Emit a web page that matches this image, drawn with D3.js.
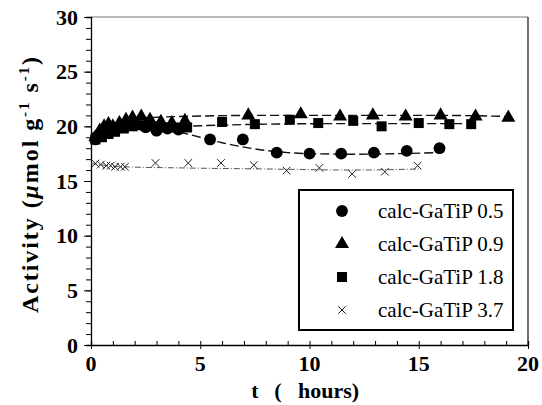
<!DOCTYPE html>
<html>
<head>
<meta charset="utf-8">
<script src="https://cdn.jsdelivr.net/npm/d3@7"></script>
<style>
  body { margin: 0; background: #fff; }
  svg text { font-family: "Liberation Serif", "DejaVu Serif", serif; fill: #000; }
</style>
</head>
<body>
<div id="chart"></div>
<script>
// measured points, t (hours) and activity
const circT = [0.2, 0.5, 0.8, 1.2, 1.6, 2.0, 2.5, 3.0, 3.5, 4.0, 5.45, 6.95, 8.5, 10.0, 11.45, 12.95, 14.45, 15.95];
const circY = [18.8, 19.2, 19.5, 19.8, 20.0, 20.2, 19.9, 19.6, 19.8, 19.7, 18.8, 18.8, 17.6, 17.5, 17.5, 17.6, 17.75, 18.0];
const triT = [0.2, 0.4, 0.6, 0.8, 1.0, 1.3, 1.6, 1.9, 2.3, 2.7, 3.2, 3.7, 4.3, 7.2, 9.6, 11.4, 12.9, 14.4, 16.0, 17.6, 19.1];
const triY = [19.0, 19.6, 20.0, 20.2, 20.0, 20.3, 20.6, 20.8, 20.9, 20.6, 20.4, 20.3, 20.5, 21.0, 21.1, 20.9, 21.0, 20.9, 21.0, 20.9, 20.8];
const sqT = [0.2, 0.5, 0.8, 1.1, 1.5, 1.9, 2.3, 2.8, 3.3, 3.8, 4.4, 6.0, 7.5, 9.1, 10.4, 12.0, 13.3, 15.0, 16.4, 17.4];
const sqY = [18.8, 19.0, 19.3, 19.5, 19.8, 20.0, 20.1, 20.0, 19.9, 19.9, 19.9, 20.4, 20.2, 20.6, 20.3, 20.5, 20.0, 20.3, 20.2, 20.2];
const crossT = [0.2, 0.45, 0.7, 0.9, 1.1, 1.35, 1.55, 2.95, 4.45, 5.95, 7.45, 8.95, 10.45, 11.95, 13.45, 14.95];
const crossY = [16.6, 16.5, 16.4, 16.4, 16.3, 16.3, 16.3, 16.65, 16.65, 16.65, 16.45, 15.95, 16.2, 15.65, 15.85, 16.4];

// fitted curves
const circFitT = [0, 1, 2, 3, 4, 5, 6, 7, 8, 9, 10, 12, 14, 16];
const circFitY = [18.8, 19.6, 20.0, 19.9, 19.5, 19.0, 18.5, 18.1, 17.8, 17.6, 17.5, 17.45, 17.5, 17.6];
const triFitT = [0, 1, 2, 4, 8, 12, 16, 19.1];
const triFitY = [19.3, 20.2, 20.7, 20.9, 21.0, 21.0, 21.0, 20.9];
const sqFitT = [0, 1, 2, 4, 8, 12, 17.4];
const sqFitY = [18.8, 19.5, 19.9, 20.0, 20.2, 20.25, 20.25];
const crossFitT = [0, 1.5, 4, 8, 12, 15];
const crossFitY = [16.6, 16.3, 16.2, 16.1, 16.0, 16.1];

const legendLabels = ["calc-GaTiP 0.5", "calc-GaTiP 0.9", "calc-GaTiP 1.8", "calc-GaTiP 3.7"];
const xTicks = [0, 5, 10, 15, 20];
const yTicks = [0, 5, 10, 15, 20, 25, 30];

const width = 542, height = 405;
const margin = { left: 91, right: 14, top: 17, bottom: 60 };

const svg = d3.select("#chart").append("svg")
  .attr("width", width)
  .attr("height", height);

const x = d3.scaleLinear().domain([0, 20]).range([margin.left, width - margin.right]);
const y = d3.scaleLinear().domain([0, 30]).range([height - margin.bottom, margin.top]);

// frame top / right
svg.append("line")
  .attr("x1", x(0)).attr("x2", x(20)).attr("y1", y(30)).attr("y2", y(30))
  .attr("stroke", "#777").attr("stroke-width", 1);
svg.append("line")
  .attr("x1", x(20)).attr("x2", x(20)).attr("y1", y(30)).attr("y2", y(0))
  .attr("stroke", "#222").attr("stroke-width", 1.3);

// x axis, minor ticks up, major ticks crossing
const xAxis = svg.append("g").attr("transform", `translate(0,${y(0)})`);
xAxis.call(d3.axisBottom(x).ticks(20).tickSize(-4).tickFormat(""));
xAxis.append("g").call(d3.axisBottom(x).tickValues(xTicks).tickSize(4).tickFormat(""))
  .selectAll(".domain").remove();
xAxis.selectAll("line").attr("stroke", "#000").attr("stroke-width", 1);
xAxis.selectAll(".domain").attr("stroke", "#000").attr("stroke-width", 1.3);
xAxis.selectAll(".xlab")
  .data(xTicks).join("text")
  .attr("class", "xlab")
  .attr("x", d => x(d)).attr("y", 26)
  .attr("fill", "#000")
  .attr("text-anchor", "middle")
  .attr("font-size", 22).attr("font-weight", "bold")
  .text(d => d);

// y axis, ticks pointing left
const yAxis = svg.append("g").attr("transform", `translate(${x(0)},0)`);
yAxis.call(d3.axisLeft(y).ticks(30).tickSize(5).tickFormat(""));
yAxis.append("g").call(d3.axisLeft(y).tickValues(yTicks).tickSize(7).tickFormat(""))
  .selectAll(".domain").remove();
yAxis.selectAll("line").attr("stroke", "#000").attr("stroke-width", 1);
yAxis.selectAll(".domain").attr("stroke", "#000").attr("stroke-width", 1.3);
yAxis.selectAll(".ylab")
  .data(yTicks).join("text")
  .attr("class", "ylab")
  .attr("x", -13).attr("y", d => y(d)).attr("dy", "0.35em")
  .attr("fill", "#000")
  .attr("text-anchor", "end")
  .attr("font-size", 22).attr("font-weight", "bold")
  .text(d => d);

// axis titles
const xt = svg.append("g").attr("font-size", 22).attr("font-weight", "bold");
xt.append("text").attr("x", 255).attr("y", 398).attr("text-anchor", "middle").text("t");
xt.append("text").attr("x", 278).attr("y", 398).attr("text-anchor", "middle").text("(");
xt.append("text").attr("x", 298).attr("y", 398).text("hours)");

const yt = svg.append("text")
  .attr("transform", `translate(38,185) rotate(-90)`)
  .attr("text-anchor", "middle")
  .attr("font-size", 24).attr("font-weight", "bold")
  .attr("textLength", 256).attr("lengthAdjust", "spacing");
yt.append("tspan").text("Activity (");
yt.append("tspan").attr("font-style", "italic").text("\u03bc");
yt.append("tspan").text("mol g");
yt.append("tspan").attr("font-size", 15).attr("dy", -9).text("-1");
yt.append("tspan").attr("dy", 9).text(" s");
yt.append("tspan").attr("font-size", 15).attr("dy", -9).text("-1");
yt.append("tspan").attr("dy", 9).text(")");

// fit lines
const line = d3.line().x(d => x(d[0])).y(d => y(d[1])).curve(d3.curveMonotoneX);
const fits = [
  { t: circFitT, v: circFitY, dash: "9,4", color: "#111", w: 1.4 },
  { t: triFitT, v: triFitY, dash: "9,4", color: "#111", w: 1.4 },
  { t: sqFitT, v: sqFitY, dash: "9,4", color: "#111", w: 1.4 },
  { t: crossFitT, v: crossFitY, dash: "6,2,1,2", color: "#555", w: 1 }
];
fits.forEach(f => {
  svg.append("path")
    .attr("d", line(d3.zip(f.t, f.v)))
    .attr("fill", "none")
    .attr("stroke", f.color)
    .attr("stroke-width", f.w)
    .attr("stroke-dasharray", f.dash);
});

// symbols
const symCircle = d3.symbol().type(d3.symbolCircle).size(110);
const symTri = d3.symbol().type(d3.symbolTriangle).size(85);
const symSq = d3.symbol().type(d3.symbolSquare).size(100);
const symCross = d3.symbol().type(d3.symbolTimes).size(40);

function drawPoints(ts, vs, gen, isCross) {
  svg.append("g").selectAll("path")
    .data(d3.zip(ts, vs)).join("path")
    .attr("transform", d => `translate(${x(d[0])},${y(d[1])})`)
    .attr("d", gen())
    .attr("fill", isCross ? "none" : "#000")
    .attr("stroke", isCross ? "#222" : "none")
    .attr("stroke-width", 1);
}
drawPoints(crossT, crossY, symCross, true);
drawPoints(sqT, sqY, symSq, false);
drawPoints(circT, circY, symCircle, false);
drawPoints(triT, triY, symTri, false);

// legend
const lg = svg.append("g");
lg.append("rect")
  .attr("x", 299).attr("y", 190).attr("width", 214).attr("height", 140)
  .attr("fill", "#fff").attr("stroke", "#000").attr("stroke-width", 2);
const legendSyms = [symCircle, symTri, symSq, symCross];
legendLabels.forEach((lab, i) => {
  const cy = 211 + i * 33;
  lg.append("path")
    .attr("transform", `translate(342,${cy})`)
    .attr("d", legendSyms[i]())
    .attr("fill", i === 3 ? "none" : "#000")
    .attr("stroke", i === 3 ? "#222" : "none");
  lg.append("text")
    .attr("x", 378).attr("y", cy).attr("dy", "0.35em")
    .attr("font-size", 21)
    .text(lab);
});
</script>
</body>
</html>
